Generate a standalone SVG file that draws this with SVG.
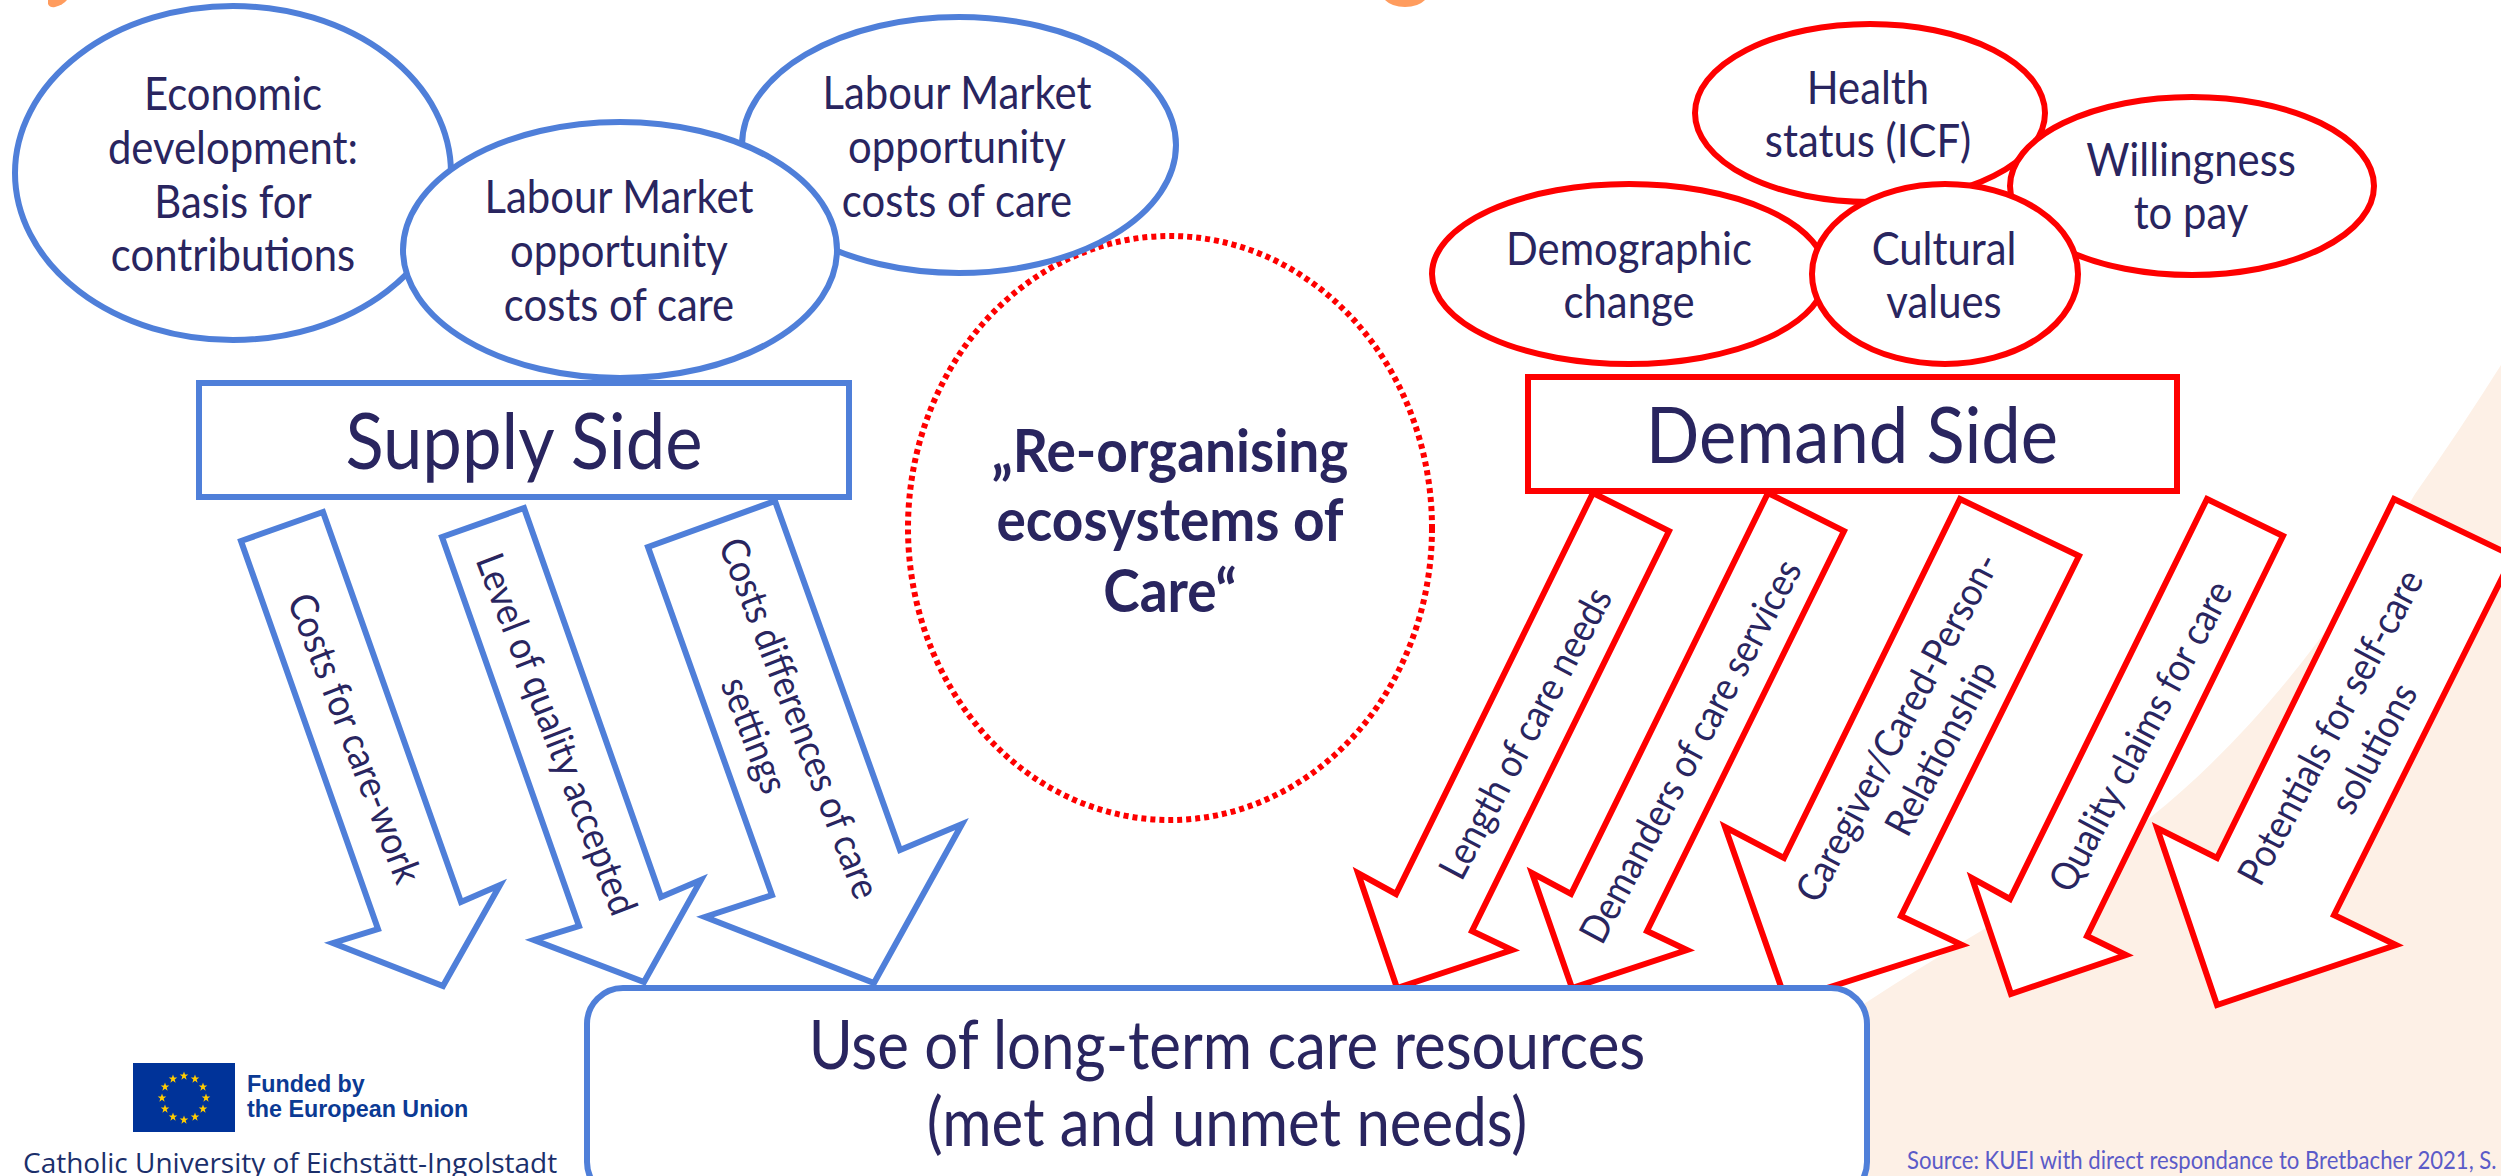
<svg xmlns="http://www.w3.org/2000/svg" width="2501" height="1176" viewBox="0 0 2501 1176">
<defs><polygon id="star" points="0,-4.5 1.1,-1.4 4.3,-1.4 1.7,0.6 2.6,3.7 0,1.8 -2.6,3.7 -1.7,0.6 -4.3,-1.4 -1.1,-1.4" fill="#ffcc00"/></defs>
<style>
text{font-family:"Lato","Carlito","Open Sans",sans-serif;fill:#29255f;text-anchor:middle}
.b{fill:#fff;stroke:#4f7fd9;stroke-width:6}
.r{fill:#fff;stroke:#fe0000;stroke-width:6;stroke-linejoin:miter}
.t{font-size:47px}
.h{font-size:78px}
.a{font-size:39px}
.u{font-size:67px}
.c{font-size:60px;font-weight:700}
.eu{font-family:"Liberation Sans",sans-serif;font-size:23.3px;font-weight:700;fill:#0b3a94;text-anchor:start}
</style>
<rect width="2501" height="1176" fill="#fff"/>
<path id="peach" d="M1840 1020C1950 945 2060 890 2151 817S2330 640 2415 494Q2460 430 2501 365V1176H1840Z" fill="#fdf0e6"/>
<path d="M48 4Q50 8 55 7Q63 5 67 0H48Z" fill="#ff9c5e"/>
<path d="M1385 0Q1392 7 1405 7Q1418 7 1425 0Z" fill="#ff9c5e"/>
<g id="connectors">
<g><polygon class="b" points="323,512 461,902 500,885 443,986 333,943 378,929 241,541"/><text class="a" transform="translate(355,738) rotate(69) scale(.91,1)" y="14">Costs for care-work</text></g>
<g><polygon class="b" points="524,508 661,897 701,880 644,982 534,940 579,926 442,537"/><text class="a" transform="translate(557,734) rotate(69) scale(.91,1)" y="14">Level of quality accepted</text></g>
<g><polygon class="b" points="775,501 900,850 962,824 874,983 705,917 772,895 648,547"/><text class="a" transform="translate(800,718) rotate(69) scale(.91,1)" y="14">Costs differences of care</text><text class="a" transform="translate(755,735) rotate(69) scale(.91,1)" y="14">settings</text></g>
<g><polygon class="r" points="1593,493 1669,531 1472,931 1512,950 1397,988 1358,873 1396,894"/><text class="a" transform="translate(1525,733) rotate(-62) scale(.91,1)" y="14">Length of care needs</text></g>
<g><polygon class="r" points="1768,493 1844,531 1647,931 1687,950 1572,988 1532,873 1571,894"/><text class="a" transform="translate(1690,751) rotate(-62) scale(.91,1)" y="14">Demanders of care services</text></g>
<g><polygon class="r" points="1960,499 2079,556 1901,916 1962,945 1786,1001 1725,827 1784,858"/><text class="a" transform="translate(1897,727) rotate(-62) scale(.91,1)" y="14">Caregiver/Cared-Person-</text><text class="a" transform="translate(1940,748) rotate(-62) scale(.91,1)" y="14">Relationship</text></g>
<g><polygon class="r" points="2207,499 2283,536 2087,936 2126,955 2011,994 1972,878 2010,899"/><text class="a" transform="translate(2140,736) rotate(-62) scale(.91,1)" y="14">Quality claims for care</text></g>
<g><polygon class="r" points="2394,499 2513,556 2334,915 2396,945 2217,1005 2157,828 2217,858"/><text class="a" transform="translate(2330,727) rotate(-62) scale(.91,1)" y="14">Potentials for self-care</text><text class="a" transform="translate(2373,748) rotate(-62) scale(.91,1)" y="14">solutions</text></g>
</g>
<g id="node-center"><ellipse cx="1170" cy="528" rx="262" ry="292" fill="#fff" stroke="#fe0000" stroke-width="6" stroke-dasharray="5 4"/><text class="c" transform="translate(1170,472) scale(.917,1)">„Re-organising</text><text class="c" transform="translate(1170,541) scale(.917,1)">ecosystems of</text><text class="c" transform="translate(1170,612) scale(.917,1)">Care“</text></g>
<g id="node-economic"><ellipse class="b" cx="233" cy="173" rx="218" ry="167"/><text class="t" transform="translate(233,110) scale(.89,1)">Economic</text><text class="t" transform="translate(233,164) scale(.89,1)">development:</text><text class="t" transform="translate(233,218) scale(.89,1)">Basis for</text><text class="t" transform="translate(233,271) scale(.89,1)">contributions</text></g>
<g id="node-labour2"><ellipse class="b" cx="959" cy="145" rx="217" ry="128"/><text class="t" transform="translate(957,109) scale(.89,1)">Labour Market</text><text class="t" transform="translate(957,163) scale(.89,1)">opportunity</text><text class="t" transform="translate(957,217) scale(.89,1)">costs of care</text></g>
<g id="node-labour1"><ellipse class="b" cx="620" cy="250" rx="217" ry="128"/><text class="t" transform="translate(619,213) scale(.89,1)">Labour Market</text><text class="t" transform="translate(619,267) scale(.89,1)">opportunity</text><text class="t" transform="translate(619,321) scale(.89,1)">costs of care</text></g>
<g id="node-supply"><rect class="b" x="199" y="383" width="650" height="114"/><text class="h" transform="translate(524,469) scale(.905,1)">Supply Side</text></g>
<g id="node-health"><ellipse class="r" cx="1870" cy="113" rx="175" ry="89"/><text class="t" transform="translate(1868,104) scale(.89,1)">Health</text><text class="t" transform="translate(1868,157) scale(.89,1)">status (ICF)</text></g>
<g id="node-willingness"><ellipse class="r" cx="2192" cy="186" rx="182" ry="89"/><text class="t" transform="translate(2191,176) scale(.89,1)">Willingness</text><text class="t" transform="translate(2191,229) scale(.89,1)">to pay</text></g>
<g id="node-demographic"><ellipse class="r" cx="1629" cy="274" rx="197" ry="90"/><text class="t" transform="translate(1629,265) scale(.89,1)">Demographic</text><text class="t" transform="translate(1629,318) scale(.89,1)">change</text></g>
<g id="node-cultural"><ellipse class="r" cx="1945" cy="274" rx="133" ry="90"/><text class="t" transform="translate(1944,265) scale(.89,1)">Cultural</text><text class="t" transform="translate(1944,318) scale(.89,1)">values</text></g>
<g id="node-demand"><rect class="r" x="1528" y="377" width="649" height="114"/><text class="h" transform="translate(1852,463) scale(.905,1)">Demand Side</text></g>
<g id="node-use"><rect class="b" x="587" y="988" width="1280" height="210" rx="36"/><text class="u" transform="translate(1227,1069) scale(.895,1)">Use of long-term care resources</text><text class="u" transform="translate(1227,1146) scale(.895,1)">(met and unmet needs)</text></g>
<g id="eu-logo"><rect x="133" y="1063" width="102" height="69" fill="#003399"/>
<use href="#star" x="184" y="1076"/><use href="#star" x="195" y="1079"/><use href="#star" x="203" y="1087"/><use href="#star" x="206" y="1098"/><use href="#star" x="203" y="1109"/><use href="#star" x="195" y="1117"/><use href="#star" x="184" y="1120"/><use href="#star" x="173" y="1117"/><use href="#star" x="165" y="1109"/><use href="#star" x="162" y="1098"/><use href="#star" x="165" y="1087"/><use href="#star" x="173" y="1079"/>
<text class="eu" x="247" y="1092">Funded by</text><text class="eu" x="247" y="1117">the European Union</text></g>
<text x="23" y="1173" font-size="28" style="font-family:'Open Sans',sans-serif;fill:#1b2f6b;text-anchor:start">Catholic University of Eichstätt-Ingolstadt</text>
<text transform="translate(1907,1169) scale(.885,1)" font-size="25" style="fill:#5b5bc8;text-anchor:start">Source: KUEI with direct respondance to Bretbacher 2021, S.</text>
</svg>
